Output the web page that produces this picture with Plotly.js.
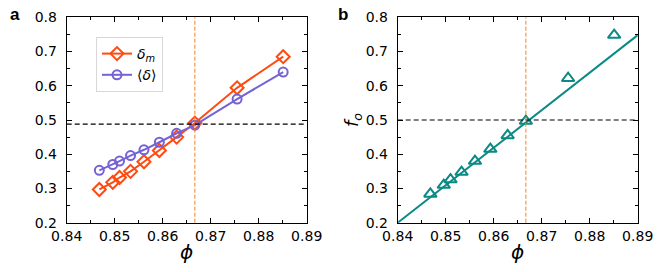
<!DOCTYPE html>
<html>
<head>
<meta charset="utf-8">
<script src="https://cdn.plot.ly/plotly-3.0.1.min.js"></script>
<style>html,body{margin:0;padding:0;background:#fff;}#chart{width:664px;height:272px;}</style>
</head>
<body>
<div id="chart"></div>
<script>
// ---- data ----
const phi = [0.8468, 0.8496, 0.8510, 0.8533, 0.8561, 0.8593, 0.8629, 0.8667, 0.8755, 0.8851];
const deltaM = [0.297, 0.318, 0.332, 0.350, 0.378, 0.411, 0.450, 0.491, 0.594, 0.685];
const deltaMean = [0.353, 0.370, 0.380, 0.396, 0.413, 0.435, 0.461, 0.485, 0.561, 0.640];
const fo = [0.284, 0.310, 0.326, 0.348, 0.380, 0.415, 0.455, 0.497, 0.622, 0.748];
const fitX = [0.84, 0.89];
const fitY = [0.2, 0.748];
const phiC = 0.8667;
const hLineA = 0.488;
const hLineB = 0.5;
const xRange = [0.84, 0.89];
const yRange = [0.2, 0.8];
const xTicks = [0.84, 0.85, 0.86, 0.87, 0.88, 0.89];
const yTicks = [0.2, 0.3, 0.4, 0.5, 0.6, 0.7, 0.8];
const labelDeltaM = '<i>δ<sub>m</sub></i>';
const labelDeltaMean = '⟨<i>δ</i>⟩';

const FONT = 'DejaVu Sans, sans-serif';
const cOrange = '#ff4b12';
const cPurple = '#7563d6';
const cTeal = '#0a8a84';
const cDash = '#f58220';

const traces = [
  {x: phi, y: deltaM, name: labelDeltaM, mode: 'lines+markers', xaxis: 'x', yaxis: 'y',
   line: {color: cOrange, width: 2},
   marker: {symbol: 'diamond-open', size: 10, color: cOrange, line: {width: 2, color: cOrange}}},
  {x: phi, y: deltaMean, name: labelDeltaMean, mode: 'lines+markers', xaxis: 'x', yaxis: 'y',
   line: {color: cPurple, width: 2},
   marker: {symbol: 'circle-open', size: 9, color: cPurple, line: {width: 2, color: cPurple}}},
  {x: fitX, y: fitY, mode: 'lines', xaxis: 'x2', yaxis: 'y2', showlegend: false,
   line: {color: cTeal, width: 2}},
  {x: phi, y: fo, mode: 'markers', xaxis: 'x2', yaxis: 'y2', showlegend: false,
   marker: {symbol: 'triangle-up-open', size: 11, color: cTeal, line: {width: 2, color: cTeal}}}
];

function xa(domain, anchor) {
  return {domain: domain, anchor: anchor, range: xRange, tickvals: xTicks,
    ticktext: xTicks.map(v => v.toFixed(2)),
    ticks: 'inside', ticklen: 5, tickwidth: 1, tickcolor: '#000',
    showline: true, linecolor: '#000', linewidth: 1, mirror: 'allticks',
    showgrid: false, zeroline: false,
    tickfont: {family: FONT, size: 14, color: '#000'},
    minor: {dtick: 0.005, ticks: 'inside', ticklen: 3, tickwidth: 1, tickcolor: '#000', showgrid: false},
    title: {text: '<i>ϕ</i>', font: {family: FONT, size: 20, color: '#000'}, standoff: 2}};
}
function ya(domain, anchor, title) {
  const ax = {domain: domain, anchor: anchor, range: yRange, tickvals: yTicks,
    ticktext: yTicks.map(v => v.toFixed(1)),
    ticks: 'inside', ticklen: 5, tickwidth: 1, tickcolor: '#000',
    showline: true, linecolor: '#000', linewidth: 1, mirror: 'allticks',
    showgrid: false, zeroline: false, ticklabelstandoff: 6,
    tickfont: {family: FONT, size: 14, color: '#000'},
    minor: {dtick: 0.05, ticks: 'inside', ticklen: 3, tickwidth: 1, tickcolor: '#000', showgrid: false}};
  if (title) ax.title = {text: title, font: {family: FONT, size: 18, color: '#000'}, standoff: 2};
  return ax;
}

const yDom = [1 - 222.7 / 272, 1 - 17.3 / 272];
const layout = {
  width: 664, height: 272,
  margin: {l: 0, r: 0, t: 0, b: 0},
  paper_bgcolor: '#fff', plot_bgcolor: '#fff',
  showlegend: true,
  xaxis: xa([66.7 / 664, 306.7 / 664], 'y'),
  yaxis: ya(yDom, 'x', ''),
  xaxis2: xa([397.7 / 664, 637.7 / 664], 'y2'),
  yaxis2: ya(yDom, 'x2', '<i>f<sub>o</sub></i>'),
  legend: {x: 96 / 664, y: 1 - 37 / 272, xanchor: 'left', yanchor: 'top',
    bgcolor: '#fff', bordercolor: '#d8d8d8', borderwidth: 1,
    font: {family: FONT, size: 14, color: '#000'}, tracegroupgap: 0, itemwidth: 30},
  shapes: [
    {type: 'line', xref: 'x', yref: 'y domain', x0: phiC, x1: phiC, y0: 0, y1: 1,
     line: {color: cDash, width: 1, dash: '4px,2px'}},
    {type: 'line', xref: 'x domain', yref: 'y', x0: 0, x1: 1, y0: hLineA, y1: hLineA,
     line: {color: '#000', width: 1.2, dash: '5px,3px'}},
    {type: 'line', xref: 'x2', yref: 'y2 domain', x0: phiC, x1: phiC, y0: 0, y1: 1,
     line: {color: cDash, width: 1, dash: '4px,2px'}},
    {type: 'line', xref: 'x2 domain', yref: 'y2', x0: 0, x1: 1, y0: hLineB, y1: hLineB,
     line: {color: '#000', width: 1.2, dash: '5px,3px'}}
  ],
  annotations: [
    {text: '<b>a</b>', xref: 'paper', yref: 'paper', x: 8 / 664, y: 1 - 3 / 272, xanchor: 'left', yanchor: 'top',
     showarrow: false, font: {family: 'Liberation Sans, Arial, sans-serif', size: 17, color: '#000'}},
    {text: '<b>b</b>', xref: 'paper', yref: 'paper', x: 336 / 664, y: 1 - 3 / 272, xanchor: 'left', yanchor: 'top',
     showarrow: false, font: {family: 'Liberation Sans, Arial, sans-serif', size: 17, color: '#000'}}
  ]
};

Plotly.newPlot('chart', traces, layout, {displayModeBar: false, staticPlot: true});
</script>
</body>
</html>
